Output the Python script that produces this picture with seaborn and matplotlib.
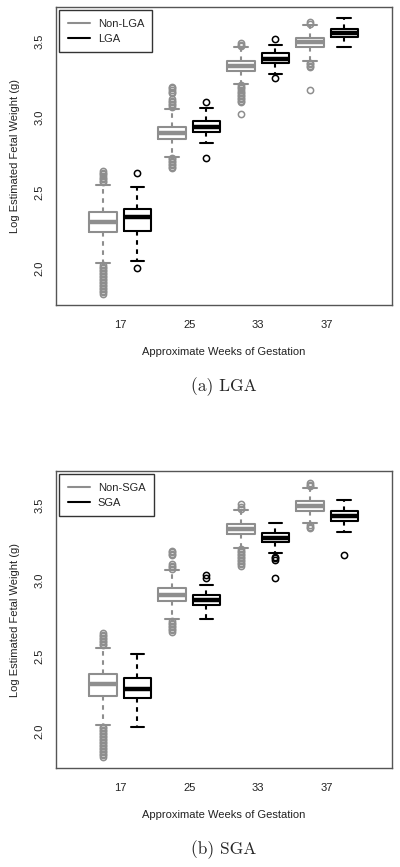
import numpy as np
import matplotlib
matplotlib.use("Agg")
import matplotlib.pyplot as plt
import seaborn as sns

# ---------------- data ----------------
weeks = ["17", "25", "33", "37"]

# Panel (a): LGA
nonlga_q1 = [2.237, 2.855, 3.306, 3.464]
nonlga_med = [2.307, 2.895, 3.339, 3.496]
nonlga_q3 = [2.373, 2.937, 3.371, 3.525]
nonlga_lo = [2.031, 2.739, 3.217, 3.372]
nonlga_hi = [2.550, 3.056, 3.462, 3.614]
nonlga_out = [
    [2.57, 2.58, 2.59, 2.60, 2.61, 2.62, 2.63, 2.64,
     2.02, 2.01, 2.00, 1.99, 1.98, 1.97, 1.96, 1.95, 1.94, 1.93, 1.92,
     1.91, 1.90, 1.89, 1.88, 1.87, 1.86, 1.85, 1.84, 1.83],
    [3.07, 3.08, 3.09, 3.10, 3.11, 3.12, 3.16, 3.17, 3.18, 3.19, 3.20,
     2.73, 2.72, 2.71, 2.70, 2.69, 2.68, 2.67, 2.66],
    [3.47, 3.48, 3.49,
     3.21, 3.20, 3.19, 3.18, 3.17, 3.16, 3.15, 3.14, 3.13, 3.12, 3.11, 3.10, 3.02],
    [3.62, 3.63, 3.36, 3.35, 3.34, 3.33, 3.18],
]
lga_q1 = [2.243, 2.902, 3.359, 3.529]
lga_med = [2.338, 2.937, 3.388, 3.558]
lga_q3 = [2.390, 2.973, 3.424, 3.585]
lga_lo = [2.044, 2.826, 3.286, 3.467]
lga_hi = [2.540, 3.060, 3.480, 3.654]
lga_out = [[2.63, 2.00], [3.10, 2.73], [3.52, 3.26], []]

# Panel (b): SGA
nonsga_q1 = [2.237, 2.864, 3.311, 3.465]
nonsga_med = [2.312, 2.908, 3.344, 3.498]
nonsga_q3 = [2.378, 2.950, 3.375, 3.529]
nonsga_lo = [2.038, 2.743, 3.221, 3.386]
nonsga_hi = [2.555, 3.072, 3.474, 3.614]
nonsga_out = [
    [2.57, 2.58, 2.59, 2.60, 2.61, 2.62, 2.63, 2.64, 2.65,
     2.03, 2.02, 2.01, 2.00, 1.99, 1.98, 1.97, 1.96, 1.95, 1.94, 1.93, 1.92,
     1.91, 1.90, 1.89, 1.88, 1.87, 1.86, 1.85, 1.84, 1.83],
    [3.08, 3.09, 3.10, 3.11, 3.17, 3.18, 3.19, 3.20,
     2.73, 2.72, 2.71, 2.70, 2.69, 2.68, 2.67, 2.66],
    [3.48, 3.49, 3.51,
     3.21, 3.20, 3.19, 3.18, 3.17, 3.16, 3.15, 3.14, 3.13, 3.12, 3.11, 3.10],
    [3.63, 3.64, 3.65, 3.37, 3.36, 3.35],
]
sga_q1 = [2.219, 2.838, 3.259, 3.395]
sga_med = [2.283, 2.873, 3.287, 3.430]
sga_q3 = [2.356, 2.906, 3.316, 3.461]
sga_lo = [2.029, 2.743, 3.182, 3.327]
sga_hi = [2.511, 2.974, 3.382, 3.537]
sga_out = [[], [3.02, 3.04], [3.16, 3.15, 3.14, 3.02], [3.17]]

yticks = [2.0, 2.5, 3.0, 3.5]
ytick_labels = ["2.0", "2.5", "3.0", "3.5"]

# ---------------- style ----------------
sns.set_style("white")
plt.rcParams["font.family"] = ["Liberation Sans", "DejaVu Sans"]

GRAY = "#8e8e8e"
BLACK = "#000000"
FRAME = "#555555"


def stats(q1, med, q3, lo, hi, out):
    return [dict(q1=a, med=b, q3=c, whislo=d, whishi=e, fliers=f)
            for a, b, c, d, e, f in zip(q1, med, q3, lo, hi, out)]


def draw_group(ax, st, positions, color):
    ax.bxp(st, positions=positions, widths=0.8, showfliers=True,
           patch_artist=False,
           boxprops=dict(color=color, linewidth=1.5),
           medianprops=dict(color=color, linewidth=3.2, solid_capstyle="butt"),
           whiskerprops=dict(color=color, linewidth=1.5, linestyle=(0, (2.2, 2.2))),
           capprops=dict(color=color, linewidth=1.5),
           capwidths=0.4,
           flierprops=dict(marker="o", markerfacecolor="none",
                           markeredgecolor=color, markersize=4.5,
                           markeredgewidth=1.1, linestyle="none"))


def panel(ax, a_st, b_st, labels, caption):
    n = len(weeks)
    pos = np.arange(n)
    draw_group(ax, a_st, list(2 * pos + 1), GRAY)
    draw_group(ax, b_st, list(2 * pos + 2), BLACK)
    ax.set_xlim(-0.36, 9.38)
    ax.set_ylim(1.755, 3.73)
    ax.set_xticks(list(2 * pos + 1.5))
    ax.set_xticklabels(weeks, fontsize=8)
    ax.set_yticks(yticks)
    ax.set_yticklabels(ytick_labels, fontsize=8, rotation=90, va="center")
    ax.tick_params(axis="x", direction="out", length=5, width=1.0,
                   color=FRAME, pad=6, labelcolor="#222222")
    ax.tick_params(axis="y", direction="out", length=5, width=1.0,
                   color=FRAME, pad=3, labelcolor="#222222")
    for s in ax.spines.values():
        s.set_color(FRAME)
        s.set_linewidth(1.0)
        s.set_visible(True)
    ax.set_xlabel("Approximate Weeks of Gestation", fontsize=8, labelpad=12,
                  color="#222222")
    ax.set_ylabel("Log Estimated Fetal Weight (g)", fontsize=8, labelpad=11,
                  color="#222222")
    h1, = ax.plot([], [], color=GRAY, lw=1.5)
    h2, = ax.plot([], [], color=BLACK, lw=1.5)
    leg = ax.legend([h1, h2], labels, loc="upper left", fontsize=8,
                    frameon=True, fancybox=False, framealpha=1,
                    edgecolor="#333333", handlelength=2.0, handletextpad=0.7,
                    borderpad=0.75, labelspacing=0.45,
                    bbox_to_anchor=(0.0, 1.0), borderaxespad=0.3)
    leg.get_frame().set_linewidth(1.0)
    ax.text(0.5, -0.275, caption, transform=ax.transAxes, ha="center",
            va="center", fontsize=12.5, family="cmr10")


fig = plt.figure(figsize=(4.0, 8.67), dpi=100)
ax1 = fig.add_axes([0.14, 0.6482, 0.84, 0.9919 - 0.6482])
ax2 = fig.add_axes([0.14, 0.1142, 0.84, 0.4567 - 0.1142])

panel(ax1,
      stats(nonlga_q1, nonlga_med, nonlga_q3, nonlga_lo, nonlga_hi, nonlga_out),
      stats(lga_q1, lga_med, lga_q3, lga_lo, lga_hi, lga_out),
      ["Non-LGA", "LGA"], "(a) LGA")
panel(ax2,
      stats(nonsga_q1, nonsga_med, nonsga_q3, nonsga_lo, nonsga_hi, nonsga_out),
      stats(sga_q1, sga_med, sga_q3, sga_lo, sga_hi, sga_out),
      ["Non-SGA", "SGA"], "(b) SGA")

fig.savefig("out.png", dpi=100, facecolor="white")
